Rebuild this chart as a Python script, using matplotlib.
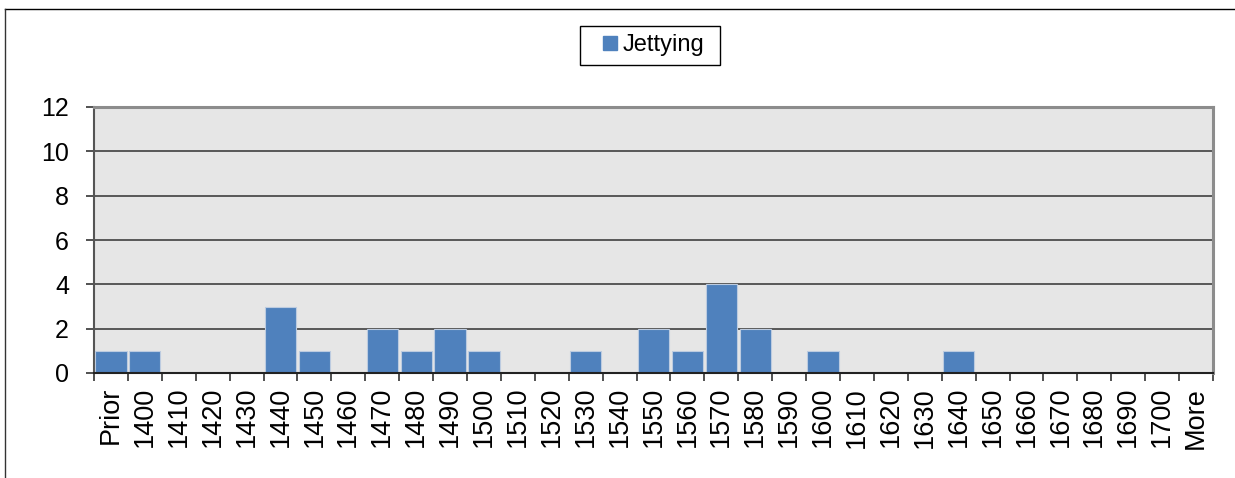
import matplotlib.pyplot as plt
from matplotlib.lines import Line2D
from matplotlib.patches import Rectangle
import numpy as np

categories = ['Prior'] + [str(y) for y in range(1400, 1710, 10)] + ['More']
jettying = [1, 1, 0, 0, 0, 3, 1, 0, 2, 1, 2, 1, 0, 0, 1, 0, 2, 1, 4, 2,
            0, 1, 0, 0, 0, 1, 0, 0, 0, 0, 0, 0, 0]
y_ticks = [0, 2, 4, 6, 8, 10, 12]

plt.rcParams['font.family'] = ['Liberation Sans', 'DejaVu Sans']

W, H = 1235, 478
fig = plt.figure(figsize=(W / 100, H / 100), dpi=100)
ax = fig.add_axes([94 / W, 1 - 373 / H, (1213 - 94) / W, (373 - 107) / H])

bar_color = '#4F81BD'
x = np.arange(len(categories))
ax.bar(x, jettying, width=0.92, color=bar_color, edgecolor='#bccbe0', linewidth=0.8, zorder=3)

ax.set_facecolor('#E6E6E6')
ax.set_xlim(-0.5, len(categories) - 0.5)
ax.set_ylim(0, 12)
ax.set_yticks(y_ticks)
ax.yaxis.grid(True, color='#404040', linewidth=1.2, zorder=1)
ax.set_axisbelow(True)

ax.set_xticks(x)
ax.set_xticklabels(categories, rotation=90, fontsize=19.5)
ax.set_xticks(np.arange(-0.5, len(categories), 1), minor=True)
ax.tick_params(axis='x', which='major', length=0, pad=10)
ax.tick_params(axis='x', which='minor', length=6, width=1.2, color='#333333', direction='out')
ax.tick_params(axis='y', labelsize=18, length=6, width=1.2, color='#333333', pad=12)

for side in ('top', 'right'):
    ax.spines[side].set_color('#8c8c8c')
    ax.spines[side].set_linewidth(2.2)
ax.spines['left'].set_color('#555555')
ax.spines['left'].set_linewidth(1.5)
ax.spines['bottom'].set_color('#222222')
ax.spines['bottom'].set_linewidth(1.5)
ax.spines['bottom'].set_zorder(4)

# legend: square marker + label, with its own box
handle = Line2D([], [], linestyle='none', marker='s', markersize=9.4,
                markerfacecolor=bar_color, markeredgecolor=bar_color)
leg = fig.legend([handle], ['Jettying'], loc='center left',
                 bbox_to_anchor=(604 / W, 1 - 45.5 / H), fontsize=17, frameon=False,
                 handlelength=0.55, handletextpad=0.22, borderpad=0, borderaxespad=0)
fig.add_artist(Rectangle((580 / W, 1 - 65 / H), 140 / W, 39 / H, transform=fig.transFigure,
                         facecolor='none', edgecolor='black', linewidth=1.0))

# outer chart frame (runs off the right and bottom edges)
fig.add_artist(Line2D([5 / W, 1.0], [1 - 9 / H, 1 - 9 / H], color='black', linewidth=1.0))
fig.add_artist(Line2D([5 / W, 5 / W], [0.0, 1 - 9 / H], color='#333333', linewidth=1.0))

fig.savefig('out.png', dpi=100)
